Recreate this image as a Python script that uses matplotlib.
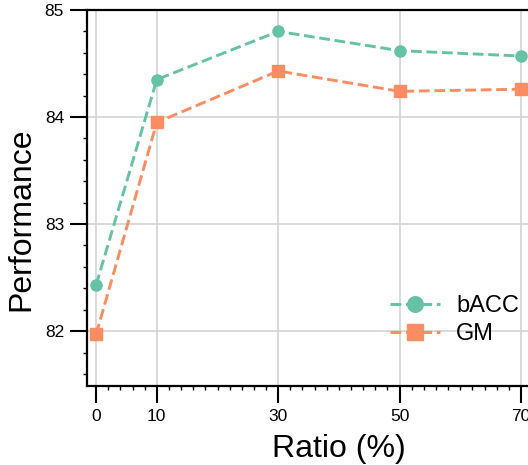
import numpy as np
import matplotlib.pyplot as plt
from matplotlib.ticker import MultipleLocator

plt.rcParams['font.family'] = ['Liberation Sans', 'DejaVu Sans']

# data
ratio = [0, 10, 30, 50, 70]
bacc = [82.43, 84.35, 84.80, 84.62, 84.57]
gm = [81.97, 83.95, 84.43, 84.24, 84.26]
xticks = [0, 10, 30, 50, 70]
yticks = [82, 83, 84, 85]

c_bacc = '#66c2a5'
c_gm = '#fc8d62'

fig = plt.figure(figsize=(5.28, 4.65), dpi=100)
W, H = 528, 465
ax = fig.add_axes([87 / W, 1 - 385.7 / H, (591 - 87) / W, (385.7 - 10) / H])

ax.plot(ratio, bacc, '--', color=c_bacc, marker='o', markersize=8, lw=2.1, label='bACC')
ax.plot(ratio, gm, '--', color=c_gm, marker='s', markersize=8, lw=2.1, label='GM')

ax.set_xlim(-1.5, -1.5 + (591 - 87) / 6.07)
ax.set_ylim(81.49, 85)
ax.set_xticks(xticks)
ax.set_yticks(yticks)
ax.xaxis.set_minor_locator(MultipleLocator(2))
ax.yaxis.set_minor_locator(MultipleLocator(0.2))
ax.tick_params(which='major', length=12.5, width=1.5, labelsize=12.5, pad=4)
ax.tick_params(which='minor', length=3, width=1)
ax.grid(True, which='major', color='#d3d3d3', lw=1.2)
ax.set_axisbelow(True)
for s in ['left', 'bottom', 'top']:
    ax.spines[s].set_linewidth(1.6)
ax.spines['right'].set_visible(False)

fig.text(21 / W, 1 - 219 / H, 'Performance', rotation=90, ha='center', va='center', fontsize=23)
fig.text(339 / W, 1 - 449 / H, 'Ratio (%)', ha='center', va='center', fontsize=23)

ax.legend(loc='upper left', bbox_to_anchor=(390 / W, 1 - 295 / H), bbox_transform=fig.transFigure,
          frameon=False, fontsize=17, markerscale=1.4, handlelength=2.1, handletextpad=0.7,
          labelspacing=0.25, borderpad=0, borderaxespad=0)

fig.savefig('out.png', dpi=100)
